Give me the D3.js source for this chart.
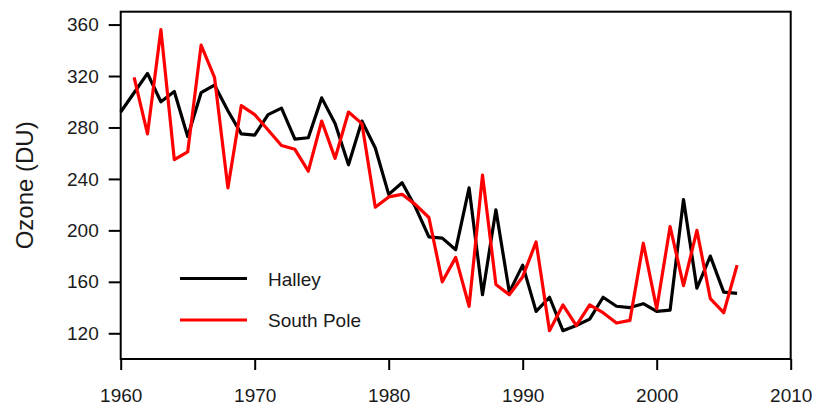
<!DOCTYPE html>
<html>
<head>
<meta charset="utf-8">
<script src="https://cdn.jsdelivr.net/npm/d3@7"></script>
<style>
  body { margin: 0; background: #fff; }
  svg { display: block; font-family: "Liberation Sans", Arial, sans-serif; }
</style>
</head>
<body>
<svg id="chart" width="814" height="405"></svg>
<script>
// data
var halleyYears = d3.range(1960, 2007);
var halley = [292, 307, 322, 300, 308, 273, 307, 313, 293, 275,
              274, 290, 295, 271, 272, 303, 283, 251, 285, 264,
              228, 237, 218, 195, 194, 185, 233, 150, 216, 152,
              173, 137, 148, 122, 126, 131, 148, 141, 140, 143,
              137, 138, 224, 155, 180, 152, 151];
var poleYears = d3.range(1961, 2007);
var southPole = [319, 275, 356, 255, 261, 344, 319, 233, 297,
                 290, 278, 266, 263, 246, 285, 256, 292, 283, 218,
                 226, 228, 220, 210, 160, 179, 141, 243, 158, 150,
                 164, 191, 122, 142, 126, 142, 136, 128, 130, 190,
                 139, 203, 157, 200, 147, 136, 173];
var xTicks = [1960, 1970, 1980, 1990, 2000, 2010];
var yTicks = [120, 160, 200, 240, 280, 320, 360];
var seriesNames = ["Halley", "South Pole"];
var seriesColors = ["#000000", "#ff0000"];

var pLeft = 120.7, pRight = 790.7, pTop = 11.7, pBottom = 359;
var svg = d3.select("#chart");

var x = d3.scaleLinear().domain([1960, 2010]).range([pLeft, pRight]);
var y = d3.scaleLinear().domain([100, 370]).range([pBottom, pTop]);

var xAxis = svg.append("g").attr("transform", "translate(0," + pBottom + ")")
  .call(d3.axisBottom(x).tickValues(xTicks).tickFormat(d3.format("d")).tickSize(11).tickPadding(19));
var yAxis = svg.append("g").attr("transform", "translate(" + pLeft + ",0)")
  .call(d3.axisLeft(y).tickValues(yTicks).tickSize(12).tickPadding(10));

[xAxis, yAxis].forEach(function(a){
  a.select(".domain").remove();
  a.selectAll(".tick line").attr("stroke", "#000").attr("stroke-width", 2);
  a.selectAll(".tick text").attr("font-size", 19).attr("fill", "#1a1a1a")
    .style("font-family", "'Liberation Sans', Arial, sans-serif");
});

// y label
svg.append("text")
  .attr("transform", "translate(33," + ((pTop + pBottom) / 2) + ") rotate(-90)")
  .attr("text-anchor", "middle")
  .attr("font-size", 24)
  .attr("fill", "#1a1a1a")
  .text("Ozone (DU)");

var line = d3.line()
  .x(function(d){ return x(d[0]); })
  .y(function(d){ return y(d[1]); });

var series = [
  d3.zip(halleyYears, halley),
  d3.zip(poleYears, southPole)
];

svg.selectAll("path.series").data(series).enter().append("path")
  .attr("class", "series")
  .attr("d", line)
  .attr("fill", "none")
  .attr("stroke", function(d, i){ return seriesColors[i]; })
  .attr("stroke-width", 3.2)
  .attr("stroke-linejoin", "round");

// box
svg.append("rect")
  .attr("x", pLeft).attr("y", pTop)
  .attr("width", pRight - pLeft).attr("height", pBottom - pTop)
  .attr("fill", "none").attr("stroke", "#000").attr("stroke-width", 2);

// legend
var legend = svg.selectAll("g.leg").data(seriesNames).enter().append("g")
  .attr("class", "leg")
  .attr("transform", function(d, i){ return "translate(180," + (278.5 + i * 41.5) + ")"; });
legend.append("line")
  .attr("x1", 0).attr("x2", 67)
  .attr("stroke", function(d, i){ return seriesColors[i]; })
  .attr("stroke-width", 3.2);
legend.append("text")
  .attr("x", 88).attr("y", 7)
  .attr("font-size", 19)
  .attr("fill", "#1a1a1a")
  .text(function(d){ return d; });
</script>
</body>
</html>
